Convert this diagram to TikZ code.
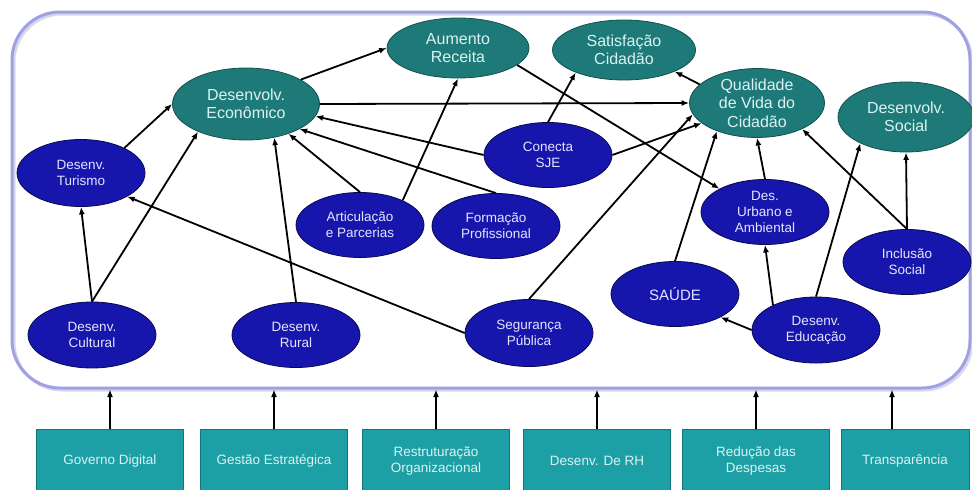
\documentclass[tikz,border=0pt]{standalone}
\usepackage{fontspec}
\setmainfont{Liberation Sans}
\usetikzlibrary{shapes.geometric,arrows.meta}
\definecolor{tealnode}{RGB}{30,122,120}
\definecolor{tealedge}{RGB}{18,80,80}
\definecolor{tealtext}{RGB}{220,242,242}
\definecolor{bluenode}{RGB}{22,22,172}
\definecolor{blueedge}{RGB}{8,8,80}
\definecolor{bluetext}{RGB}{228,228,255}
\definecolor{boxfill}{RGB}{28,160,166}
\definecolor{boxedge}{RGB}{18,118,122}
\definecolor{framecol}{RGB}{160,160,226}
\definecolor{shadowcol}{RGB}{215,215,240}
\begin{document}
\begin{tikzpicture}[x=1pt,y=-1pt,>={Latex[length=7.5pt,width=6pt]},
  meta/.style={ellipse,draw=tealedge,line width=0.8pt,fill=tealnode,text=tealtext,
    inner sep=0pt,align=center,font=\fontsize{16}{18.5}\selectfont,
    minimum width=142pt,minimum height=62pt},
  acao/.style={ellipse,draw=blueedge,line width=0.8pt,fill=bluenode,text=bluetext,
    inner sep=0pt,align=center,font=\fontsize{13.5}{16}\selectfont,
    minimum width=128pt,minimum height=66pt},
  base/.style={rectangle,draw=boxedge,line width=0.6pt,fill=boxfill,text=tealtext,
    inner sep=0pt,align=center,font=\fontsize{13.5}{16.5}\selectfont,
    minimum width=147pt,minimum height=64pt},
  frame/.style={rectangle,draw=framecol,line width=3pt,rounded corners=48pt,
    minimum width=958pt,minimum height=376pt},
  lig/.style={->,line width=1.8pt}]
\useasboundingbox (0,0) rectangle (972,490);
\node[frame,draw=shadowcol,line width=3pt] at (493,202) {};
\node[frame] (moldura) at (491,200) {};
% objetivos
\node[meta,minimum width=147pt,minimum height=72pt] (eco) at (246,104) {Desenvolv.\\Econômico};
\node[meta,minimum height=60pt] (aum) at (458,48) {Aumento\\Receita};
\node[meta,minimum width=143pt,minimum height=60pt] (sat) at (624,50) {Satisfação\\Cidadão};
\node[meta,minimum width=135pt,minimum height=67pt] (qual) at (757,103) {Qualidade\\de Vida do\\Cidadão};
\node[meta,minimum width=136pt,minimum height=70pt] (soc) at (906,117) {Desenvolv.\\Social};
% acoes
\node[acao,minimum height=67pt] (tur) at (81,173) {Desenv.\\Turismo};
\node[acao,minimum height=65pt] (art) at (360,225) {Articulação\\e Parcerias};
\node[acao,minimum height=65pt] (for) at (496,226) {Formação\\Profissional};
\node[acao,minimum height=65pt] (con) at (548,155) {Conecta\\SJE};
\node[acao,minimum height=65pt] (urb) at (765,212) {Des.\\Urbano e\\Ambiental};
\node[acao,minimum height=65pt] (inc) at (907,262) {Inclusão\\Social};
\node[acao,minimum height=65pt,font=\fontsize{15}{18}\selectfont] (sau) at (675,294) {SAÚDE};
\node[acao] (edu) at (816,330) {Desenv.\\Educação};
\node[acao,minimum height=67pt] (seg) at (529,333) {Segurança\\Pública};
\node[acao] (cul) at (92,335) {Desenv.\\Cultural};
\node[acao,minimum height=65pt] (rur) at (296,335) {Desenv.\\Rural};
% bases
\node[base] (gd) at (110,461) {Governo Digital};
\node[base] (ge) at (274,461) {Gestão Estratégica};
\node[base] (ro) at (436,461) {Restruturação\\Organizacional};
\node[base] (rh) at (597,461) {Desenv. De RH};
\node[base] (rd) at (756,461) {Redução das\\Despesas};
\node[base,minimum width=128pt] (tr) at (905,461) {Transparência};
% ligacoes
\draw[lig] (eco.24) -- (aum.west);
\draw[lig] (eco.east) -- (qual.west);
\draw[lig] (tur.30) -- (eco.west);
\draw[lig] (cul.north) -- (tur.south);
\draw[lig] (cul.north) -- (eco.-150);
\draw[lig] (rur.north) -- (eco.-50);
\draw[lig] (art.north) -- (eco.-35);
\draw[lig] (art.30) -- (aum.south);
\draw[lig] (for.north) -- (eco.-25);
\draw[lig] (con.west) -- (eco.-10);
\draw[lig] (con.north) -- (sat.-155);
\draw[lig] (con.east) -- (qual.-160);
\draw[lig] (aum.-16) -- (urb.153);
\draw[lig] (qual.162) -- (sat.-23);
\draw[lig] (seg.west) -- (tur.-27);
\draw[lig] (seg.north) -- (qual.-170);
\draw[lig] (sau.north) -- (qual.-145);
\draw[lig] (urb.north) -- (qual.south);
\draw[lig] (inc.north) -- (qual.-30);
\draw[lig] (inc.north) -- (soc.south);
\draw[lig] (edu.north) -- (soc.-150);
\draw[lig] (edu.150) -- (urb.south);
\draw[lig] (edu.west) -- (sau.-27);
% bases -> moldura
\foreach \b in {gd,ge,ro,rh,rd}
  \draw[lig] (\b.north) -- (\b.north |- moldura.south);
\draw[lig] ([xshift=-13pt]tr.north) -- ([xshift=-13pt]tr.north |- moldura.south);
\end{tikzpicture}
\end{document}
